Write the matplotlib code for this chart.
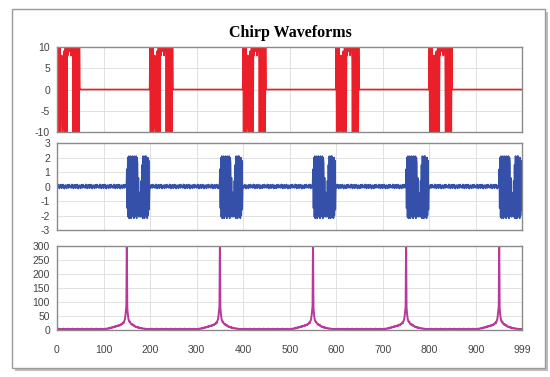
import numpy as np
import matplotlib.pyplot as plt
from matplotlib.patches import Rectangle

plt.rcParams['axes.unicode_minus'] = False
plt.rcParams['path.simplify'] = False

# Values (one period of each waveform, repeated every 200 samples)
n_samples = 1000
x_ticks = [0, 100, 200, 300, 400, 500, 600, 700, 800, 900, 999]

# Top: red chirp bursts, x = start .. start+49, zero elsewhere
red_starts = [0, 200, 400, 600, 800]
red_burst = [10, -10, 10, -10, 10, -10, 10,
             -10, -9, 6, 8, 4, -10, -8, 7, 9, 5, -10,
             10, -10, 10, -10,
             10, 8, 10, 9, 10, 10, 9, 10, 8, 10, 9, 10, 10,
             -10, 10, -10, 10, -10, 10, -10, 10, -10, 10, -10, 10, -10, 10, 0]

# Middle: blue received chirp, small noise floor plus bursts
blue_starts = [150, 350, 550, 750, 950]
blue_noise = [0.07, -0.10, 0.15, -0.04, 0.12, -0.14, 0.03, 0.09, -0.08, 0.13,
              -0.12, 0.05, -0.03, 0.14, -0.09, 0.08, -0.15, 0.04, 0.10, -0.07,
              0.02, -0.13, 0.12, -0.05, 0.08, -0.10, 0.14, -0.02, 0.05, -0.08]
blue_burst = [1.2, -1.5, 2.0, -2.1, 2.1, -2.2, 1.9, -2.0, 2.1, -2.2, 2.0, -2.1,
              2.1, -2.0, 1.9, -2.2, 2.1, -2.1, 2.0, -2.0, 2.1, -2.2, 2.0,
              1.6, -2.0, 0.6, -2.1, -0.4, -1.9, -0.8, -2.1, 0.4, -2.0, 1.5,
              -2.2, 2.1, -2.1, 2.0, -2.2, 2.1, -2.0, 2.1, -2.1, 1.9, -2.2, 2.0,
              -2.0, 1.8, -1.6, 0.0]

# Bottom: magenta correlation output, peaks at these samples
magenta_peaks = [150, 350, 550, 750, 950]
magenta_floor = [3, 4, 2, 3, 5, 3, 4, 2, 3, 4, 3, 2, 4, 3, 5, 3, 2, 4, 3, 3]
magenta_peak = [3, 4, 3, 4, 5, 3, 4, 5, 4, 5,
                6, 7, 5, 8, 6, 8, 9, 7, 9, 10,
                9, 11, 10, 12, 11, 13, 12, 14, 13, 15,
                14, 16, 15, 17, 16, 18, 17, 20, 19, 22,
                21, 25, 27, 24, 30, 34, 40, 52, 68, 85,
                330,
                80, 60, 45, 36, 31, 28, 30, 24, 22, 20,
                19, 21, 17, 16, 18, 15, 13, 12, 13, 11,
                10, 11, 9, 10, 8, 9, 7, 8, 7, 6,
                7, 6, 5, 6, 5, 5, 4, 5, 4, 4,
                4, 3, 4, 3, 4, 3, 3, 4, 3]

x = np.arange(n_samples)

red = np.zeros(n_samples)
for s in red_starts:
    red[s:s + len(red_burst)] = red_burst

blue = np.resize(np.array(blue_noise), n_samples)
for s in blue_starts:
    blue[s:s + len(blue_burst)] = blue_burst

magenta = np.resize(np.array(magenta_floor, dtype=float), n_samples)
for p in magenta_peaks:
    magenta[p - 50:p + 50] = magenta_peak

fig = plt.figure(figsize=(5.5, 3.77), dpi=100)
fig.patch.set_facecolor('white')

# chart frame with a soft shadow, like the spreadsheet chart area
fig.patches.append(Rectangle((15 / 550, 1 - 371 / 377), 533 / 550, 359 / 377,
                             transform=fig.transFigure, facecolor='#BDBDBD',
                             edgecolor='none', zorder=-2))
fig.patches.append(Rectangle((12 / 550, 1 - 368 / 377), 533 / 550, 359 / 377,
                             transform=fig.transFigure, facecolor='white',
                             edgecolor='#9A9A9A', linewidth=1.0, zorder=-1))

left, width = 57 / 550, 465 / 550
ax1 = fig.add_axes([left, 1 - 132 / 377, width, 85 / 377])
ax2 = fig.add_axes([left, 1 - 230 / 377, width, 87 / 377])
ax3 = fig.add_axes([left, 1 - 330 / 377, width, 84 / 377])

ax1.plot(x, red, color='#EA1F29', linewidth=1.2)
ax2.plot(x, blue, color='#3550A8', linewidth=1.1)
ax3.plot(x, magenta, color='#B8389C', linewidth=1.4)

ax1.set_ylim(-10, 10)
ax1.set_yticks([-10, -5, 0, 5, 10])
ax2.set_ylim(-3, 3)
ax2.set_yticks([-3, -2, -1, 0, 1, 2, 3])
ax3.set_ylim(0, 300)
ax3.set_yticks([0, 50, 100, 150, 200, 250, 300])

for ax in (ax1, ax2, ax3):
    ax.set_xlim(0, 999)
    ax.set_xticks(x_ticks)
    ax.grid(True, color='#DCDCDC', linewidth=0.6)
    ax.set_axisbelow(True)
    for sp in ax.spines.values():
        sp.set_color('#8A8A8A')
        sp.set_linewidth(1.0)
    ax.tick_params(length=0, labelsize=7.5, labelcolor='#444444', pad=5)
    for lab in ax.get_yticklabels() + ax.get_xticklabels():
        lab.set_family('Liberation Sans')

ax1.tick_params(labelbottom=False)
ax2.tick_params(labelbottom=False)
ax3.tick_params(axis='x', pad=11)

fig.text(290 / 550, 1 - 33 / 377, 'Chirp Waveforms', ha='center', va='center',
         fontsize=11.5, fontweight='bold', family='Liberation Serif')

fig.savefig('out.png', dpi=100)
